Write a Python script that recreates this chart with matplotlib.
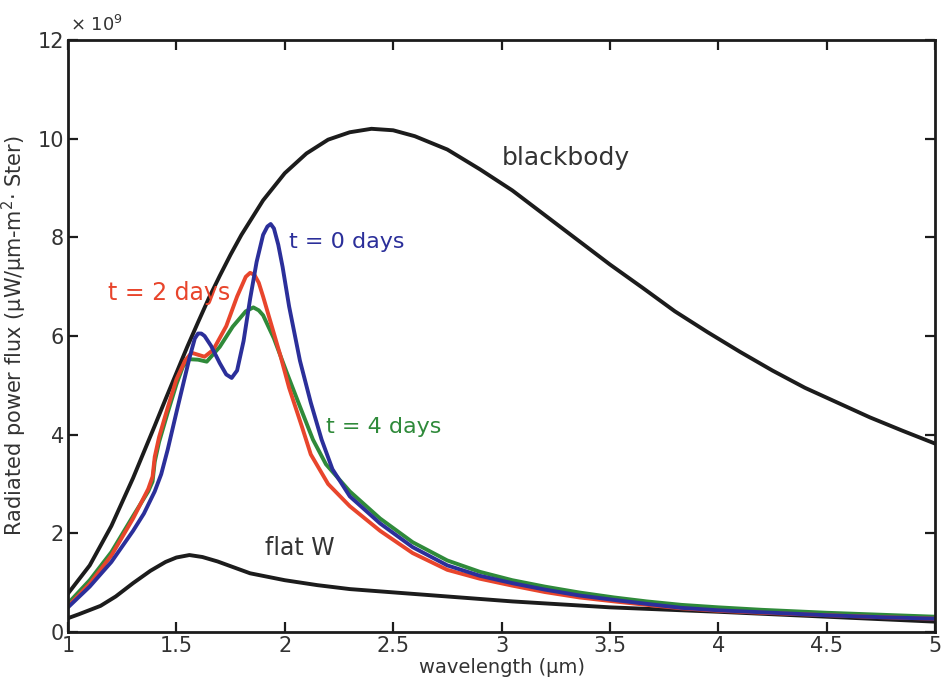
import numpy as np
import matplotlib.pyplot as plt
from matplotlib.ticker import FuncFormatter

# values (units of 1e9)
bb_x = [1.0, 1.1, 1.2, 1.3, 1.4, 1.45, 1.5, 1.55, 1.6, 1.65, 1.7, 1.75, 1.8, 1.9, 2.0, 2.1, 2.2, 2.3,
        2.4, 2.5, 2.6, 2.75, 2.9, 3.05, 3.2, 3.35, 3.5, 3.65, 3.8, 3.95, 4.1, 4.25, 4.4, 4.55, 4.7,
        4.85, 5.0]
bb_y = [0.78, 1.35, 2.15, 3.12, 4.18, 4.72, 5.25, 5.78, 6.28, 6.77, 7.22, 7.65, 8.05, 8.75, 9.3,
        9.7, 9.98, 10.13, 10.2, 10.17, 10.05, 9.78, 9.38, 8.95, 8.45, 7.95, 7.45, 6.98, 6.5, 6.08,
        5.68, 5.3, 4.95, 4.65, 4.35, 4.08, 3.82]

flat_x = [1.0, 1.05, 1.15, 1.22, 1.3, 1.38, 1.45, 1.5, 1.56, 1.62, 1.69, 1.84, 2.0, 2.15, 2.3,
          2.45, 2.75, 3.05, 3.5, 4.0, 4.5, 5.0]
flat_y = [0.28, 0.36, 0.53, 0.72, 0.99, 1.24, 1.42, 1.51, 1.56, 1.52, 1.43, 1.19, 1.05, 0.95,
          0.87, 0.82, 0.72, 0.62, 0.5, 0.41, 0.31, 0.21]

t0_x = [1.0, 1.1, 1.2, 1.3, 1.35, 1.4, 1.43, 1.46, 1.5, 1.53, 1.56, 1.585, 1.6, 1.615, 1.63, 1.66,
        1.7, 1.73, 1.755, 1.78, 1.81, 1.84, 1.87, 1.9, 1.92, 1.935, 1.95, 1.97, 1.99, 2.02, 2.07,
        2.12, 2.17, 2.22, 2.3, 2.44, 2.59, 2.75, 2.9, 3.05, 3.2, 3.36, 3.52, 3.67, 3.83, 4.0, 4.2,
        4.5, 4.75, 5.0]
t0_y = [0.5, 0.92, 1.42, 2.05, 2.4, 2.85, 3.2, 3.7, 4.45, 5.0, 5.55, 5.95, 6.05, 6.05, 6.0, 5.8,
        5.45, 5.22, 5.15, 5.3, 5.9, 6.75, 7.5, 8.05, 8.22, 8.27, 8.18, 7.85, 7.4, 6.6, 5.5,
        4.65, 3.9, 3.3, 2.75, 2.2, 1.72, 1.35, 1.14, 0.99, 0.86, 0.74, 0.65, 0.57, 0.49, 0.44, 0.4,
        0.34, 0.3, 0.27]

t2_x = [1.0, 1.1, 1.2, 1.3, 1.37, 1.39, 1.4, 1.42, 1.46, 1.5, 1.54, 1.57, 1.6, 1.63, 1.67, 1.73,
        1.78, 1.82, 1.84, 1.86, 1.88, 1.9, 1.93, 1.98, 2.02, 2.08, 2.12, 2.2, 2.3,
        2.44, 2.59, 2.75, 2.9, 3.05, 3.2, 3.36, 3.52, 3.67, 3.83, 4.0, 4.2, 4.5, 4.75, 5.0]
t2_y = [0.52, 0.98, 1.55, 2.3, 2.9, 3.15, 3.55, 3.95, 4.55, 5.12, 5.5, 5.66, 5.62, 5.58, 5.72, 6.2,
        6.8, 7.2, 7.28, 7.24, 7.08, 6.8, 6.35, 5.6, 4.95, 4.15, 3.6, 3.0, 2.55,
        2.05, 1.6, 1.26, 1.08, 0.94, 0.81, 0.7, 0.62, 0.55, 0.48, 0.43, 0.39, 0.34, 0.3, 0.27]

t4_x = [1.0, 1.1, 1.2, 1.3, 1.37, 1.39, 1.4, 1.42, 1.46, 1.5, 1.53, 1.56, 1.6, 1.64, 1.7, 1.76,
        1.82, 1.855, 1.88, 1.9, 1.95, 2.01, 2.07, 2.13, 2.19, 2.3,
        2.44, 2.59, 2.75, 2.9, 3.05, 3.2, 3.36, 3.52, 3.67, 3.83, 4.0, 4.2, 4.5, 4.75, 5.0]
t4_y = [0.58, 1.05, 1.62, 2.35, 2.85, 3.05, 3.45, 3.85, 4.45, 5.02, 5.38, 5.53, 5.52, 5.48, 5.78,
        6.19, 6.5, 6.58, 6.52, 6.42, 5.95, 5.25, 4.57, 3.9, 3.4, 2.85,
        2.3, 1.82, 1.45, 1.22, 1.05, 0.92, 0.8, 0.7, 0.62, 0.55, 0.5, 0.45, 0.39, 0.35, 0.31]

scale = 1e9
ink = '#1c1c1c'
txt = '#333333'
blue = '#2b2f9a'
red = '#e8452c'
green = '#2f8a3a'

fig = plt.figure(figsize=(9.41, 6.92), dpi=100)
ax = fig.add_axes([0.0723, 0.0867, 0.9213, 0.8555])

lw = 2.8
ax.plot(bb_x, np.array(bb_y) * scale, color=ink, lw=lw)
ax.plot(flat_x, np.array(flat_y) * scale, color=ink, lw=lw)
ax.plot(t4_x, np.array(t4_y) * scale, color=green, lw=lw)
ax.plot(t2_x, np.array(t2_y) * scale, color=red, lw=lw)
ax.plot(t0_x, np.array(t0_y) * scale, color=blue, lw=lw)

ax.text(3.0, 9.6 * scale, 'blackbody', color=txt, fontsize=18, va='center')
ax.text(2.02, 7.9 * scale, 't = 0 days', color=blue, fontsize=16, va='center')
ax.text(1.185, 6.87 * scale, 't = 2 days', color=red, fontsize=17, va='center')
ax.text(2.19, 4.15 * scale, 't = 4 days', color=green, fontsize=16, va='center')
ax.text(1.91, 1.7 * scale, 'flat W', color=txt, fontsize=17, va='center')

ax.set_xlim(1, 5)
ax.set_ylim(0, 12 * scale)
ax.set_xticks(np.arange(1, 5.01, 0.5))
ax.set_xticklabels(['1', '1.5', '2', '2.5', '3', '3.5', '4', '4.5', '5'])
ax.set_yticks(np.arange(0, 12.01, 2) * scale)
ax.yaxis.set_major_formatter(FuncFormatter(lambda v, _: f'{v / scale:g}'))
ax.text(0.002, 1.008, '\u00d7 10$^9$', transform=ax.transAxes, fontsize=13, color=txt,
        ha='left', va='bottom')

ax.tick_params(direction='in', top=True, right=True, length=7, width=1.6,
               labelsize=15, labelcolor=txt, color=ink, pad=3)
for s in ax.spines.values():
    s.set_linewidth(2.0)
    s.set_color(ink)

ax.set_xlabel('wavelength (\u00b5m)', fontsize=14, color=txt, labelpad=1)
ax.set_ylabel('Radiated power flux (\u00b5W/\u00b5m-m$^2$\u00b7 Ster)', fontsize=15,
              color=txt, labelpad=6)

fig.savefig('out.png', dpi=100)
